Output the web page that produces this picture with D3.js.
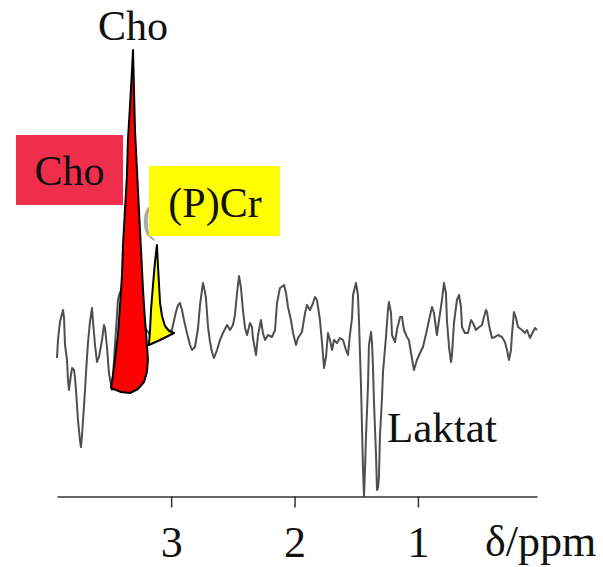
<!DOCTYPE html>
<html>
<head>
<meta charset="utf-8">
<script src="https://cdn.jsdelivr.net/npm/d3@7/dist/d3.min.js"></script>
<style>
  html, body { margin: 0; padding: 0; background: #fff; }
  svg { display: block; }
  text { font-family: "Liberation Serif", "Times New Roman", serif; fill: #111; }
</style>
</head>
<body>
<svg id="chart" width="603" height="567"></svg>
<script>
// 1H MR spectrum: chemical shift (ppm) and signal intensity (a.u.)
const spectrumPpm = [
  3.925, 3.917, 3.901, 3.885, 3.876, 3.868, 3.860, 3.844, 3.836, 3.828,
  3.812, 3.803, 3.787, 3.779, 3.771, 3.755, 3.739, 3.731, 3.722, 3.714,
  3.698, 3.690, 3.674, 3.658, 3.641, 3.633, 3.617, 3.601, 3.585, 3.560,
  3.544, 3.536, 3.520, 3.504, 3.487, 3.479,
  3.455, 3.431, 3.414, 3.382, 3.333, 3.252, 3.171, 3.090, 3.025,
  2.993, 2.985, 2.961, 2.944, 2.928, 2.912, 2.896, 2.872, 2.847, 2.831,
  2.807, 2.782, 2.766, 2.750, 2.742, 2.726, 2.718, 2.701, 2.685, 2.669,
  2.653, 2.628, 2.604, 2.580, 2.547, 2.523, 2.499, 2.483, 2.466, 2.450,
  2.434, 2.418, 2.401, 2.385, 2.361, 2.345, 2.337, 2.312, 2.296, 2.272,
  2.256, 2.239, 2.215, 2.183, 2.158, 2.142, 2.118, 2.085, 2.069, 2.053,
  2.029, 2.012, 1.988, 1.972, 1.940, 1.915, 1.899, 1.875, 1.850, 1.834,
  1.818, 1.794, 1.777, 1.761, 1.745, 1.729, 1.713, 1.696, 1.680, 1.656,
  1.632, 1.607, 1.583, 1.567, 1.551, 1.534, 1.526, 1.502, 1.486, 1.478,
  1.461, 1.445, 1.437, 1.429, 1.421, 1.405, 1.397, 1.380, 1.372, 1.364,
  1.356, 1.340, 1.332, 1.324, 1.316, 1.308, 1.291, 1.283, 1.259, 1.243,
  1.235, 1.218, 1.210, 1.186, 1.170, 1.145, 1.129, 1.113, 1.089, 1.073,
  1.056, 1.032, 1.008, 0.983, 0.959, 0.927, 0.910, 0.886, 0.870, 0.846,
  0.829, 0.805, 0.789, 0.773, 0.765, 0.748, 0.732, 0.724, 0.708, 0.684,
  0.667, 0.651, 0.643, 0.619, 0.594, 0.570, 0.554, 0.530, 0.513, 0.481,
  0.465, 0.449, 0.440, 0.424, 0.400, 0.376, 0.351, 0.319, 0.295, 0.278,
  0.262, 0.246, 0.238, 0.222, 0.205, 0.189, 0.157, 0.132, 0.116, 0.092,
  0.068, 0.051, 0.035
];
const spectrumIntensity = [
  -5.6, -2, 1.6, 3.2, 4, 2.4, -3, -6, -10, -12,
  -9, -7.6, -8, -9.6, -12, -18, -22, -23.4, -21, -18,
  -12, -8.6, -2.6, 1.6, 4.4, 1.6, -3, -6.4, -5.4, -2,
  1, 0.4, -3.4, -8.6, -11, -12,
  -3, 6, 7.6, 6, 4, 2, -1, -1, -0.2,
  0, 1, 3.6, 5, 5.4, 4, 2, -0.6, -3, -4,
  -3.4, 0.4, 5, 8, 9.4, 7.6, 6.4, 0.6, -2.4, -4.4,
  -5.6, -4, -2, -0.6, 1, 0, 1, 3, 7.4, 10.8,
  8.4, 4, 0.4, -1, 1.4, 0.6, -1.6, -5, -1, 2,
  -0.6, -2, -1, -1.4, 0, 5.4, 8.4, 9, 7.4, 4.6,
  2, -0.6, -3, -1.6, -0.4, 3.4, 5, 4, 5.4, 6.6,
  6, 2, -2.6, -7.6, -5.4, -0.6, -2, -4, -2, -2.6,
  -1.6, -2, -4, -5, -1, 2.4, 7, 9.4, 7, 2,
  -11.4, -28, -33.2, -28, -21.4, -11.4, -3, -0.4, -2.6, -7.6,
  -14.6, -24.6, -32, -31.6, -29.4, -21.4, -13.4, -8.4, -1.4, 4,
  5.6, 3.4, -1, -2.4, 0, 2.6, 2.6, 0, -1.4, -2,
  -4.6, -8, -6, -4.6, -3.4, 0, 2, 4.6, 3.4, -1,
  2, 6, 9.4, 7.4, 2, -3.4, -6.4, -5, 1.4, 6,
  7, 4.6, 0.6, -0.6, -0.6, 2, 1.4, 0, 0.4, 1,
  2.6, 4, 3.6, 1, -1.6, -1.4, -1, -1.4, -2.4, -4,
  -6, -4, -1, 3.6, 2.4, 0.6, 0, -0.6, 0, -1.6,
  -0.4, 0.4, 0
];

// Choline peak outline (filled red)
const choPpm = [
  3.309, 3.301, 3.293, 3.277, 3.261, 3.244, 3.228, 3.212, 3.196, 3.188,
  3.196, 3.220, 3.269, 3.333, 3.406, 3.487,
  3.471, 3.455, 3.431, 3.414, 3.398, 3.390, 3.374, 3.358, 3.350, 3.333, 3.317, 3.309
];
const choIntensity = [
  56, 48, 40, 32, 24, 16, 8, 2, -3, -6,
  -8.4, -10.4, -11.8, -12.6, -12.4, -11.6,
  -9, -6, -1, 5, 11, 17, 24, 31, 38, 45, 52, 56
];

// (Phospho)creatine peak outline (filled yellow)
const crPpm = [
  3.115, 3.107, 3.098, 3.090, 3.074, 3.050, 3.017, 2.977,
  3.025, 3.090, 3.180,
  3.171, 3.163, 3.147, 3.131, 3.115
];
const crIntensity = [
  17, 13, 9, 5.4, 2.8, 0.8, -0.2, -0.6,
  -1.2, -2, -3,
  0, 4, 9, 13.6, 17
];

const tickValues = [3, 2, 1];
const peakLabels = ["Cho", "(P)Cr", "Laktat"];
const axisTitle = "δ/ppm";

const svg = d3.select("#chart");

const x = d3.scaleLinear().domain([3.925, 0.035]).range([57, 537]);
const y = d3.scaleLinear().domain([-33.2, 56.8]).range([496, 46]);

const toPoints = (px, iy) => px.map((p, i) => [p, iy[i]]);

const line = d3.line()
  .x(d => x(d[0]))
  .y(d => y(d[1]));

// spectrum trace
svg.append("path")
  .attr("d", line(toPoints(spectrumPpm, spectrumIntensity)))
  .attr("fill", "none")
  .attr("stroke", "#4f4f4f")
  .attr("stroke-width", 2)
  .attr("stroke-linejoin", "round");

// opening bracket of the older (P)Cr label, peeking out beside the yellow tag
svg.append("text")
  .attr("x", 142).attr("y", 232)
  .attr("font-size", 42)
  .style("fill", "#a8a8a8")
  .text("(");

// Cho peak
svg.append("path")
  .attr("d", line(toPoints(choPpm, choIntensity)) + "Z")
  .attr("fill", "#ff0000")
  .attr("stroke", "#000")
  .attr("stroke-width", 2)
  .attr("stroke-linejoin", "round");

// (P)Cr peak
svg.append("path")
  .attr("d", line(toPoints(crPpm, crIntensity)) + "Z")
  .attr("fill", "#ffff00")
  .attr("stroke", "#000")
  .attr("stroke-width", 2)
  .attr("stroke-linejoin", "round");

// x axis
const axis = d3.axisBottom(x)
  .tickValues(tickValues)
  .tickFormat(d3.format("d"))
  .tickSize(11)
  .tickSizeOuter(0);

const gx = svg.append("g")
  .attr("transform", "translate(0,496.5)")
  .call(axis);
gx.select(".domain").attr("stroke", "#333").attr("stroke-width", 1.5);
gx.selectAll(".tick line").attr("stroke", "#333").attr("stroke-width", 1.5);
gx.selectAll(".tick text")
  .attr("y", 60).attr("dy", null)
  .attr("font-size", 44)
  .attr("font-family", "Liberation Serif, Times New Roman, serif")
  .style("fill", "#111");

svg.append("text")
  .attr("x", 485).attr("y", 556)
  .attr("font-size", 44)
  .text(axisTitle);

// peak labels
svg.append("text")
  .attr("x", x(choPpm[0])).attr("y", y(choIntensity[0]) - 10)
  .attr("text-anchor", "middle")
  .attr("font-size", 42)
  .text(peakLabels[0]);

svg.append("rect")
  .attr("x", 16).attr("y", 135).attr("width", 107).attr("height", 70)
  .attr("fill", "#ef2e4b");
svg.append("text")
  .attr("x", 69.5).attr("y", 185)
  .attr("text-anchor", "middle")
  .attr("font-size", 42)
  .text(peakLabels[0]);

svg.append("rect")
  .attr("x", 149).attr("y", 166).attr("width", 131).attr("height", 70)
  .attr("fill", "#ffff00");
svg.append("text")
  .attr("x", 215).attr("y", 217)
  .attr("text-anchor", "middle")
  .attr("font-size", 42)
  .text(peakLabels[1]);

svg.append("text")
  .attr("x", 387).attr("y", 442)
  .attr("font-size", 43)
  .text(peakLabels[2]);
</script>
</body>
</html>
